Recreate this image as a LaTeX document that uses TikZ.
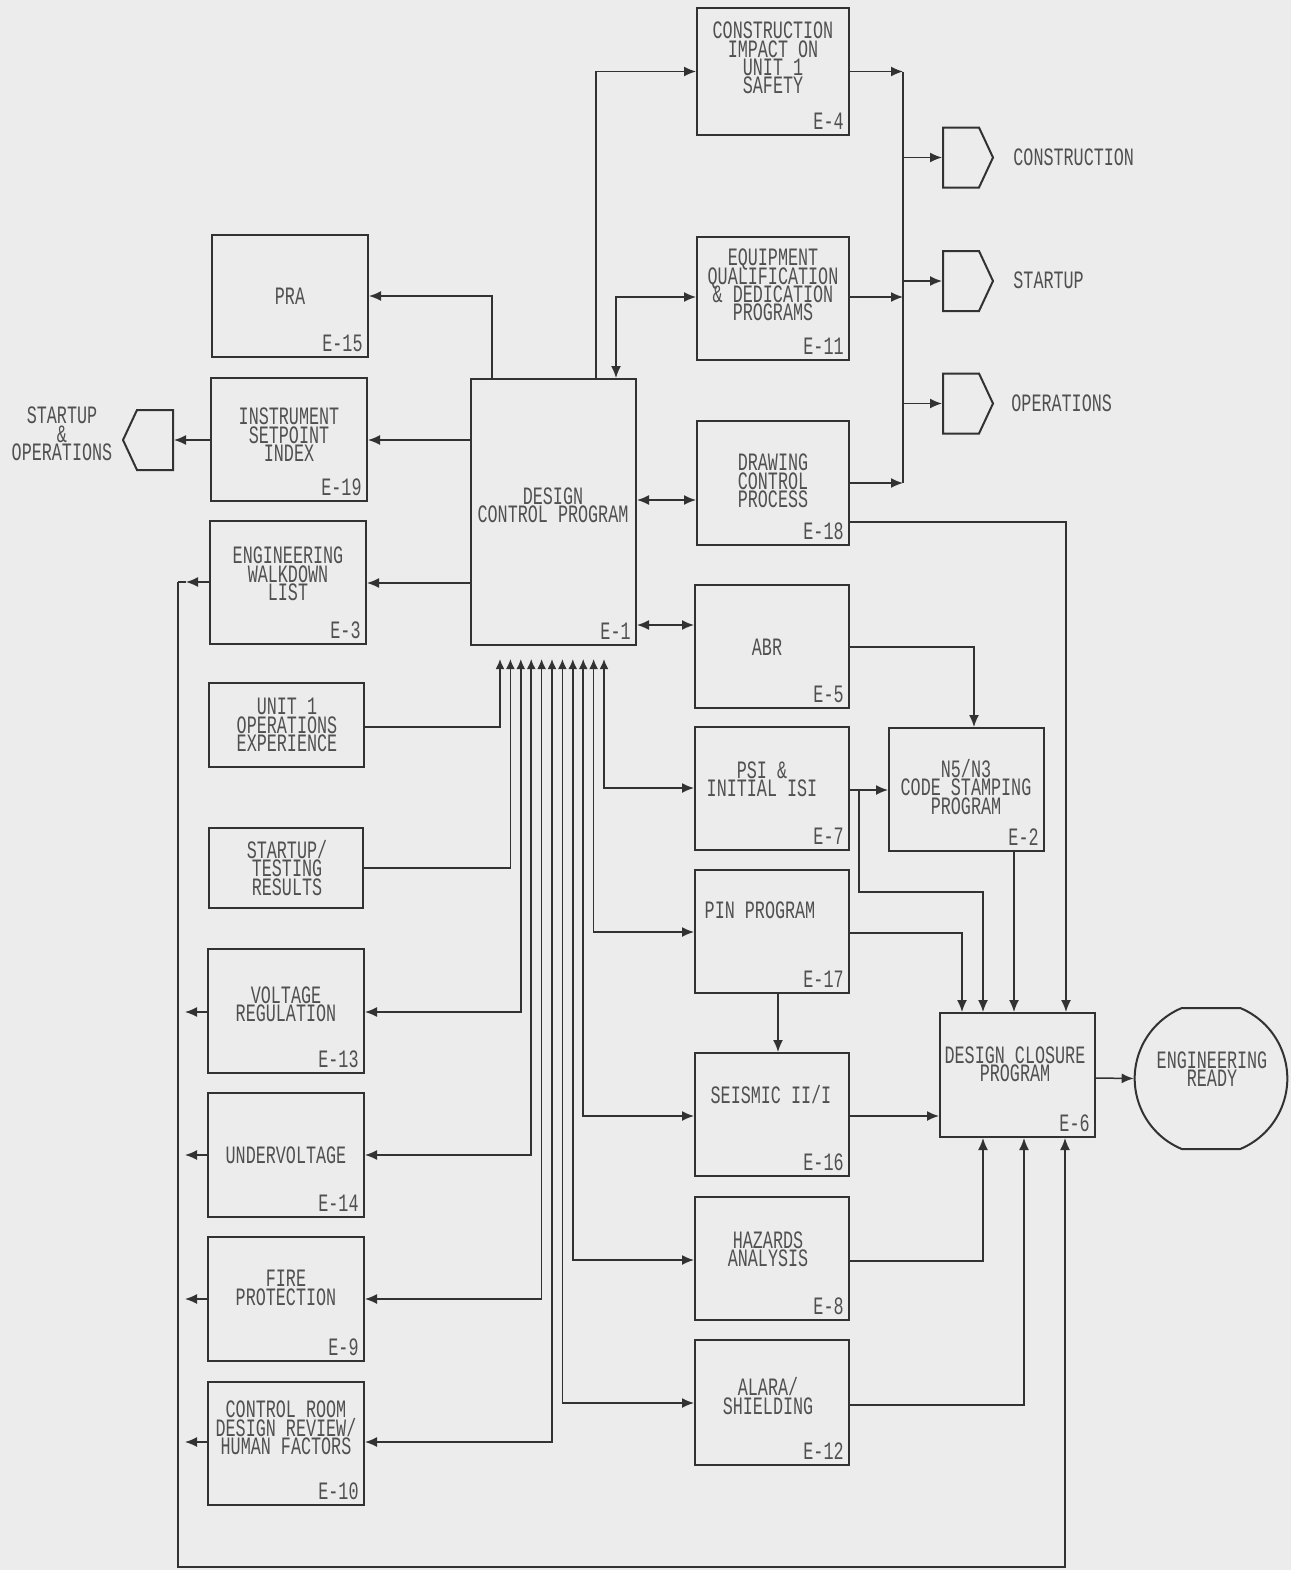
\documentclass[tikz,border=0pt]{standalone}
\usepackage{fontspec}
\newfontfamily\plot[FakeStretch=0.67]{Liberation Mono}
\usetikzlibrary{arrows.meta,fit,shapes.symbols,shapes.misc}
\definecolor{bg}{RGB}{236,236,236}
\definecolor{ink}{RGB}{50,50,50}
\definecolor{tx}{RGB}{80,80,80}
\newcommand{\blk}[9]{%
  \node[box,fit={(#2,#3) (#4,#5)}] (#1) {};
  \node[txt] (#1t) at (#6,#7) {#8};
  \node[lbl] (#1l) at ([xshift=-3pt,yshift=3.5pt]#1.south east) {#9};}
\newcommand{\blkn}[8]{%
  \node[box,fit={(#2,#3) (#4,#5)}] (#1) {};
  \node[txt] (#1t) at (#6,#7) {#8};}
\begin{document}
\begin{tikzpicture}[x=0.5pt,y=-0.5pt,
 ln/.style={draw=ink,line width=0.75pt},
 arr/.style={ln,-{Latex[length=6pt,width=5pt]}},
 darr/.style={ln,{Latex[length=6pt,width=5pt]}-{Latex[length=6pt,width=5pt]}},
 bun/.style={ln,{Latex[length=5pt,width=4.4pt]}-{Latex[length=6pt,width=5pt]},shorten <=6.5pt},
 bunin/.style={ln,-{Latex[length=5pt,width=4.4pt]},shorten >=6.5pt},
 box/.style={draw=ink,line width=1pt,inner sep=0pt},
 txt/.style={text=tx,font={\plot\fontsize{12.5}{9.2}\selectfont\lineskiplimit=-20pt\relax},align=center,inner sep=0pt},
 lbl/.style={txt,anchor=base east},
 outp/.style={draw=ink,line width=1pt,signal,signal pointer angle=130,minimum width=25pt,minimum height=30pt,inner sep=0pt}]
\fill[bg] (0,0) rectangle (1291,1570);
\useasboundingbox (0,0) rectangle (1291,1570);

% left column
\blk{e15}{212}{235}{368}{357}{290}{296}{PRA}{E-15}
\blk{e19}{211}{378}{367}{501}{289}{435}{INSTRUMENT\\SETPOINT\\INDEX}{E-19}
\blk{e3}{210}{521}{366}{644}{288}{574}{ENGINEERING\\WALKDOWN\\LIST}{E-3}
\blkn{u1}{209}{683}{364}{767}{287}{725}{UNIT 1\\OPERATIONS\\EXPERIENCE}
\blkn{st}{209}{828}{363}{908}{287}{868}{STARTUP/\\TESTING\\RESULTS}
\blk{e13}{208}{949}{364}{1073}{286}{1004}{VOLTAGE\\REGULATION}{E-13}
\blk{e14}{208}{1093}{364}{1217}{286}{1155}{UNDERVOLTAGE}{E-14}
\blk{e9}{208}{1237}{364}{1361}{286}{1288}{FIRE\\PROTECTION}{E-9}
\blk{e10}{208}{1382}{364}{1505}{286}{1428}{CONTROL ROOM\\DESIGN REVIEW/\\HUMAN FACTORS}{E-10}

% centre
\blk{e1}{471}{379}{636}{645}{553}{505}{DESIGN\\CONTROL PROGRAM}{E-1}

% right column
\blk{e4}{697}{8}{849}{135}{773}{58}{CONSTRUCTION\\IMPACT ON\\UNIT 1\\SAFETY}{E-4}
\blk{e11}{697}{237}{849}{360}{773}{285}{EQUIPMENT\\QUALIFICATION\\\& DEDICATION\\PROGRAMS}{E-11}
\blk{e18}{697}{421}{849}{545}{773}{481}{DRAWING\\CONTROL\\PROCESS}{E-18}
\blk{e5}{695}{585}{849}{708}{767}{647}{ABR}{E-5}
\blk{e7}{695}{727}{849}{850}{762}{779}{PSI \&\\INITIAL ISI}{E-7}
\blk{e17}{695}{870}{849}{993}{760}{910}{PIN PROGRAM}{E-17}
\blk{e16}{695}{1053}{849}{1176}{771}{1095}{SEISMIC II/I}{E-16}
\blk{e8}{695}{1197}{849}{1320}{768}{1249}{HAZARDS\\ANALYSIS}{E-8}
\blk{e12}{695}{1340}{849}{1465}{768}{1396}{ALARA/\\SHIELDING}{E-12}
\blk{e2}{889}{728}{1044}{851}{966}{787}{N5/N3\\CODE STAMPING\\PROGRAM}{E-2}
\blk{e6}{940}{1013}{1095}{1137}{1015}{1064}{DESIGN CLOSURE\\PROGRAM}{E-6}

\node[box,rounded rectangle,rounded rectangle arc length=135,minimum width=76pt,minimum height=70.5pt] (er) at (1211,1078.5) {};
\node[txt] (ert) at (1212,1069) {ENGINEERING\\READY};

% output symbols
\node[outp,signal to=east] (pc) at (961,157.5) {};
\node[outp,signal to=east] (ps) at (961,281) {};
\node[outp,signal to=east] (po) at (961,403.5) {};
\node[txt,anchor=west] (pct) at (1013,157) {CONSTRUCTION};
\node[txt,anchor=west] (pst) at (1013,280) {STARTUP};
\node[txt,anchor=west] (pot) at (1011,403) {OPERATIONS};
\node[outp,signal to=west] (pl) at (155,440) {};
\node[txt] (plt) at (62,434) {STARTUP\\\&\\OPERATIONS};

% E-1 outputs
\draw[arr] (e1.north -| 492,0) |- (e15.east);
\draw[arr] (e1.west |- 0,440) -- (e19.east |- 0,440);
\draw[arr] (e1.west |- 0,583) -- (e3.east |- 0,583);
\draw[arr] (e1.north -| 596,0) |- (e4.west);
\draw[darr] (e1.north -| 616,0) |- (e11.west |- 0,297);
\draw[darr] (e1.east |- 0,500) -- (e18.west |- 0,500);
\draw[darr] (e1.east |- 0,625) -- (e5.west |- 0,625);
\draw[arr] (e19.west |- 0,440) -- (pl.east);

% bus to outputs
\coordinate (bt) at (903,72);
\draw[ln] (bt) -- (e18.east -| bt);
\draw[arr] (e4.east) -- (e4.east -| bt);
\draw[arr] (e11.east |- 0,297) -- (bt |- 0,297);
\draw[arr] (e18.east) -- (e18.east -| bt);
\draw[arr] (pc.west -| bt) -- (pc.west);
\draw[arr] (ps.west -| bt) -- (ps.west);
\draw[arr] (po.west -| bt) -- (po.west);

% towards design closure
\draw[arr] (e18.east |- 0,522) -| (e6.north -| 1066,0);
\draw[arr] (e5.east |- 0,647) -| (e2.north -| 974,0);
\draw[arr] (e7.east |- 0,790) -- (e2.west |- 0,790);
\coordinate (br) at (859,790);
\draw[arr] (br) |- (983,892) -- (e6.north -| 983,0);
\draw[arr] (e17.east |- 0,933) -| (e6.north -| 962,0);
\draw[arr] (e2.south -| 1014,0) -- (e6.north -| 1014,0);
\draw[arr] (e17.south -| 778,0) -- (e16.north -| 778,0);
\draw[arr] (e16.east |- 0,1116) -- (e6.west |- 0,1116);
\draw[arr] (e8.east |- 0,1261) -| (e6.south -| 983,0);
\draw[arr] (e12.east |- 0,1405) -| (e6.south -| 1024,0);
\draw[arr] (e6.east |- 0,1078) -- (er.west);

% feedback loop
\coordinate (fb) at (178,582);
\draw[arr] (e3.west |- 0,582) -- ([xshift=4pt]fb);
\draw[ln] ([xshift=4pt]fb) -- (fb);
\draw[arr] (fb) |- (1065,1567) -- (e6.south -| 1065,0);
\draw[arr,shorten >=3.5pt] (e13.west |- 0,1012) -- (fb |- 0,1012);
\draw[arr,shorten >=3.5pt] (e14.west |- 0,1155) -- (fb |- 0,1155);
\draw[arr,shorten >=3.5pt] (e9.west |- 0,1299) -- (fb |- 0,1299);
\draw[arr,shorten >=3.5pt] (e10.west |- 0,1442) -- (fb |- 0,1442);

% bundle below E-1
\draw[bunin] (u1.east |- 0,727) -| (e1.south -| 500,0);
\draw[bunin] (st.east |- 0,868) -| (e1.south -| 510.4,0);
\draw[bun] (e1.south -| 520.8,0) |- (e13.east |- 0,1012);
\draw[bun] (e1.south -| 531.2,0) |- (e14.east |- 0,1155);
\draw[bun] (e1.south -| 541.6,0) |- (e9.east |- 0,1299);
\draw[bun] (e1.south -| 552,0) |- (e10.east |- 0,1442);
\draw[bun] (e1.south -| 562.4,0) |- (e12.west |- 0,1403);
\draw[bun] (e1.south -| 572.8,0) |- (e8.west |- 0,1260);
\draw[bun] (e1.south -| 583.2,0) |- (e16.west |- 0,1116);
\draw[bun] (e1.south -| 593.6,0) |- (e17.west |- 0,932);
\draw[bun] (e1.south -| 604,0) |- (e7.west |- 0,788);
\end{tikzpicture}
\end{document}
